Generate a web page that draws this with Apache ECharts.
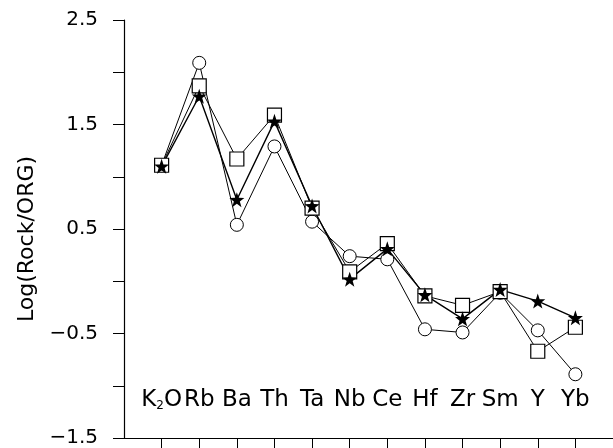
<!DOCTYPE html>
<html>
<head>
<meta charset="utf-8">
<title>Log(Rock/ORG)</title>
<script src="https://cdn.jsdelivr.net/npm/echarts@6/dist/echarts.min.js"></script>
<style>
  html, body { margin: 0; padding: 0; background: #fff; }
  #main { width: 613px; height: 448px; }
</style>
</head>
<body>
<div id="main"></div>
<script>
// element names along the x axis
var elements = ['K2O', 'Rb', 'Ba', 'Th', 'Ta', 'Nb', 'Ce', 'Hf', 'Zr', 'Sm', 'Y', 'Yb'];
// values
var circleVals = [1.11, 2.09, 0.54, 1.29, 0.57, 0.24, 0.21, -0.46, -0.49, -0.11, -0.47, -0.89];
var squareVals = [1.11, 1.87, 1.17, 1.59, 0.70, 0.09, 0.36, -0.14, -0.23, -0.10, -0.67, -0.44];
var starVals   = [1.10, 1.77, 0.78, 1.53, 0.72, 0.02, 0.31, -0.13, -0.36, -0.08, -0.19, -0.35];
var yLabels = [-1.5, -0.5, 0.5, 1.5, 2.5];

var FONT = 'DejaVu Sans';
var starPath = 'path://M0,-10 L2.35,-3.24 L9.51,-3.09 L3.8,1.24 L5.88,8.09 L0,4 L-5.88,8.09 L-3.8,1.24 L-9.51,-3.09 L-2.35,-3.24 Z';

function pts(vals) {
  return vals.map(function (v, i) { return [i + 1, v]; });
}

var chart = echarts.init(document.getElementById('main'));
chart.setOption({
  animation: false,
  backgroundColor: '#fff',
  grid: { left: 124, right: 0, top: 20, bottom: 10 },
  xAxis: {
    type: 'value',
    min: 0, max: 13, interval: 1,
    splitLine: { show: false },
    axisLine: { onZero: false, lineStyle: { color: '#000', width: 1.2 } },
    axisTick: { length: 10, lineStyle: { color: '#000' } },
    axisLabel: {
      inside: true,
      margin: 26,
      color: '#000',
      showMinLabel: false,
      showMaxLabel: false,
      formatter: function (v) {
        var name = elements[v - 1];
        if (!name) return '';
        if (name === 'K2O') return '{k|K}{s|2}{k|O}';
        return '{k|' + name + '}';
      },
      rich: {
        k: { fontFamily: FONT, fontSize: 23, color: '#000' },
        s: { fontFamily: FONT, fontSize: 12, color: '#000', padding: [12, 0, 0, 0] }
      }
    }
  },
  yAxis: {
    type: 'value',
    min: -1.5, max: 2.5, interval: 0.5,
    name: 'Log(Rock/ORG)',
    nameLocation: 'middle',
    nameGap: 82,
    nameTextStyle: { fontFamily: FONT, fontSize: 22, color: '#000', padding: [0, 0, 0, -20] },
    splitLine: { show: false },
    axisLine: { lineStyle: { color: '#000', width: 1.2 } },
    axisTick: { length: 11, lineStyle: { color: '#000' } },
    axisLabel: {
      margin: 26,
      color: '#000',
      fontFamily: FONT,
      fontSize: 20,
      formatter: function (v) {
        for (var i = 0; i < yLabels.length; i++) {
          if (Math.abs(yLabels[i] - v) < 1e-6) {
            return (v < 0 ? '\u2212' : '') + Math.abs(v).toFixed(1);
          }
        }
        return '';
      }
    }
  },
  series: [
    {
      type: 'line',
      data: pts(circleVals),
      symbol: 'circle',
      symbolSize: 13,
      lineStyle: { color: '#000', width: 1 },
      itemStyle: { color: '#fff', borderColor: '#000', borderWidth: 1 }
    },
    {
      type: 'line',
      data: pts(squareVals),
      symbol: 'rect',
      symbolSize: 14,
      lineStyle: { color: '#000', width: 1 },
      itemStyle: { color: '#fff', borderColor: '#000', borderWidth: 1.2 }
    },
    {
      type: 'line',
      data: pts(starVals),
      symbol: starPath,
      symbolSize: 15,
      lineStyle: { color: '#000', width: 1.4 },
      itemStyle: { color: '#000', borderColor: '#000', borderWidth: 0 }
    }
  ]
});
</script>
</body>
</html>
